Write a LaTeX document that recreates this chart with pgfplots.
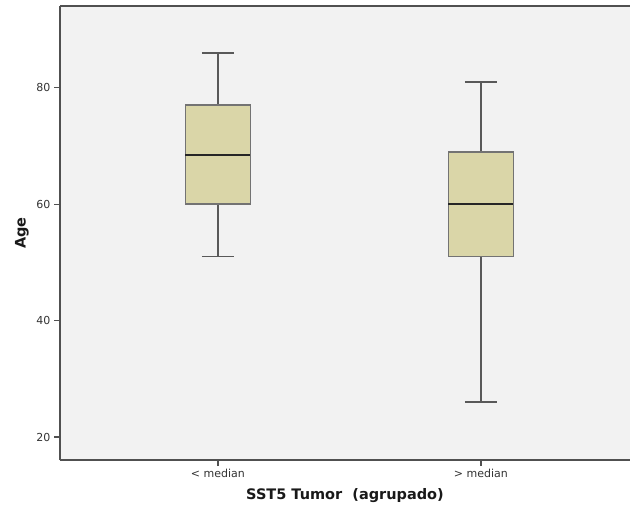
\documentclass[border=0pt]{standalone}
\usepackage{pgfplots}
\pgfplotsset{compat=1.18}
\usepgfplotslibrary{statistics}
\usepackage{fontspec}
\setmainfont{DejaVu Sans}
\definecolor{bgc}{RGB}{242,242,242}
\definecolor{boxc}{RGB}{218,214,168}
\definecolor{linec}{RGB}{80,80,80}
\begin{document}
\begin{tikzpicture}
\begin{axis}[
  name=ax,
  scale only axis,
  width=570pt, height=454pt,
  xmin=0.4, xmax=2.567,
  ymin=16.06, ymax=94.05,
  axis background/.style={fill=bgc},
  axis x line=box, axis y line=left,
  axis line style={linec, line width=1.6pt, -},
  x axis line style={-},
  y axis line style={-},
  xtick={1,2}, xticklabels={{< median},{> median}},
  ytick={20,40,60,80},
  tick align=outside, major tick length=6pt,
  tick style={linec, line width=1.4pt},
  xtick pos=bottom, ytick pos=left,
  ticklabel style={font=\fontsize{11}{13}\selectfont, text=black!80},
  /pgf/number format/assume math mode=true,
  xlabel={SST5 Tumor\ \ (agrupado)},
  ylabel={Age},
  xlabel style={at={(axis description cs:0.5,-0.0793)}, anchor=center, font=\bfseries\fontsize{14.5}{17}\selectfont, text=black!90},
  ylabel style={at={(axis description cs:-0.067,0.5)}, anchor=center, font=\bfseries\fontsize{14.5}{17}\selectfont, text=black!90},
  boxplot/draw direction=y,
  boxplot/box extend=0.247,
  boxplot/whisker extend=0.122,
  boxplot/every box/.style={draw=black!55, fill=boxc, line width=1.6pt},
  boxplot/every whisker/.style={draw=black!65, line width=1.5pt},
  boxplot/every median/.style={draw=black!85, line width=2.4pt},
]
\addplot+[mark=none, solid, boxplot prepared={
  lower whisker=51, lower quartile=60, median=68.5,
  upper quartile=77, upper whisker=86, draw position=1}] coordinates {};
\addplot+[mark=none, solid, boxplot prepared={
  lower whisker=26, lower quartile=51, median=60,
  upper quartile=69, upper whisker=81, draw position=2}] coordinates {};
\end{axis}
\pgfresetboundingbox
\path[use as bounding box] ([xshift=-60pt,yshift=-48pt]ax.south west) rectangle ([yshift=6pt]ax.north east);
\end{tikzpicture}
\end{document}
